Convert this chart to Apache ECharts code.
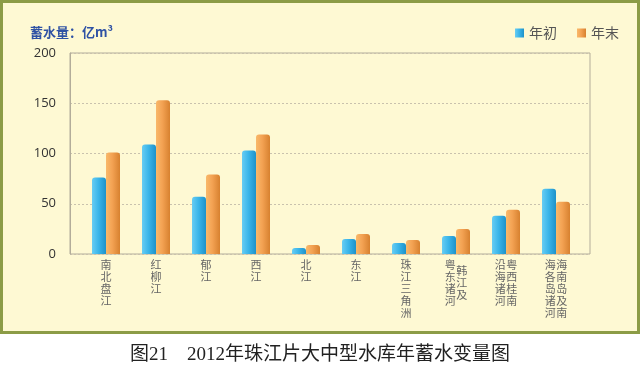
<!DOCTYPE html>
<html>
<head>
<meta charset="utf-8">
<script src="https://cdn.jsdelivr.net/npm/echarts@6/dist/echarts.min.js"></script>
<style>
html,body{margin:0;padding:0;background:#ffffff;}
#chart{width:640px;height:370px;}
</style>
</head>
<body>
<div id="chart"></div>
<script>
// ---- data ----
var categories = ['南北盘江','红柳江','郁江','西江','北江','东江','珠江三角洲','韩江及粤东诸河','粤西桂南沿海诸河','海南岛及南海各岛诸河'];
// label columns, left to right: [text, offset in half-lines]
var labelColumns = [
  [['南北盘江',0]],
  [['红柳江',0]],
  [['郁江',0]],
  [['西江',0]],
  [['北江',0]],
  [['东江',0]],
  [['珠江三角洲',0]],
  [['粤东诸河',0],['韩江及',1]],
  [['沿海诸河',0],['粤西桂南',0]],
  [['海各岛诸河',0],['海南岛及南',0]]
];
var startValues = [76, 109, 57, 103, 6, 15, 11, 18, 38, 65];
var endValues   = [101, 153, 79, 119, 9, 20, 14, 25, 44, 52];
var seriesNames = ['年初','年末'];
var yTicks = [0, 50, 100, 150, 200];

function buildLabel(idx){
  var cols = labelColumns[idx];
  var rows = 0;
  cols.forEach(function(c){ rows = Math.max(rows, c[1] + 2*(c[0].length-1) + 1); });
  var out = [];
  for (var r=0;r<rows;r++){
    var parts=[];
    cols.forEach(function(c){
      var k = r - c[1];
      if (k>=0 && k%2===0 && k/2 < c[0].length) parts.push(c[0].charAt(k/2)); else parts.push('\u3000');
    });
    out.push(parts.join('\u200A'));
  }
  return out.join('\n');
}

var chart = echarts.init(document.getElementById('chart'), null, {renderer:'canvas'});
var blue = new echarts.graphic.LinearGradient(0,0,1,0,[
  {offset:0,color:'#68cdf3'},{offset:0.45,color:'#3cb6ea'},{offset:1,color:'#1e92c9'}]);
var orange = new echarts.graphic.LinearGradient(0,0,1,0,[
  {offset:0,color:'#f9b96a'},{offset:0.45,color:'#f3a253'},{offset:1,color:'#d7812f'}]);

var option = {
  backgroundColor:'#ffffff',
  animation:false,
  graphic:[{
    type:'rect', z:-10, silent:true,
    shape:{x:1.5,y:1.5,width:637,height:331},
    style:{fill:'#fef9d3',stroke:'#8c9c46',lineWidth:3}
  }],
  title:[{
    text:'蓄水量：亿m³',
    left:25, top:21,
    textStyle:{color:'#2f52a4',fontSize:13,fontWeight:'bold',fontFamily:'Noto Sans CJK SC'}
  },{
    text:'图21\u30002012年珠江片大中型水库年蓄水变量图',
    left:'center', top:341,
    textStyle:{color:'#222222',fontSize:19,fontWeight:'normal',fontFamily:'Liberation Serif, Noto Sans CJK SC'}
  }],
  legend:{
    left:510, top:21,
    itemWidth:9, itemHeight:9, itemGap:20,
    icon:'rect',
    data:seriesNames,
    textStyle:{color:'#555555',fontSize:14,fontFamily:'Noto Sans CJK SC'}
  },
  grid:[
    {left:70, top:53, width:520, height:201, show:true, borderColor:'#b3ad9a', borderWidth:1, backgroundColor:'transparent'},
    {left:81, top:53, width:500, height:201}
  ],
  xAxis:[
    {type:'value', gridIndex:0, min:0, max:1, show:false},
    {type:'category', gridIndex:1, data:categories,
     axisLine:{show:false}, axisTick:{show:false},
     axisLabel:{interval:0, margin:8, color:'#666666', fontSize:11, lineHeight:6,
       fontFamily:'Noto Sans CJK SC',
       formatter:function(v,i){ return buildLabel(i); }}}
  ],
  yAxis:[
    {type:'value', gridIndex:0, min:yTicks[0], max:yTicks[yTicks.length-1], interval:50,
     axisLine:{show:true, lineStyle:{color:'#b3ad9a'}},
     axisTick:{show:false},
     axisLabel:{color:'#333333', fontSize:13, margin:14, fontFamily:'Open Sans'},
     splitLine:{show:true, lineStyle:{color:'#c9c2ad', type:[2,2], width:1}}},
    {type:'value', gridIndex:1, min:yTicks[0], max:yTicks[yTicks.length-1], interval:50, show:false, splitLine:{show:false}}
  ],
  series:[
    {name:seriesNames[0], type:'bar', xAxisIndex:1, yAxisIndex:1, data:startValues,
     barWidth:14, barGap:'0%', itemStyle:{color:blue, borderRadius:[3,3,0,0]}},
    {name:seriesNames[1], type:'bar', xAxisIndex:1, yAxisIndex:1, data:endValues,
     barWidth:14, barGap:'0%', itemStyle:{color:orange, borderRadius:[3,3,0,0]}}
  ]
};
chart.setOption(option);
</script>
</body>
</html>
